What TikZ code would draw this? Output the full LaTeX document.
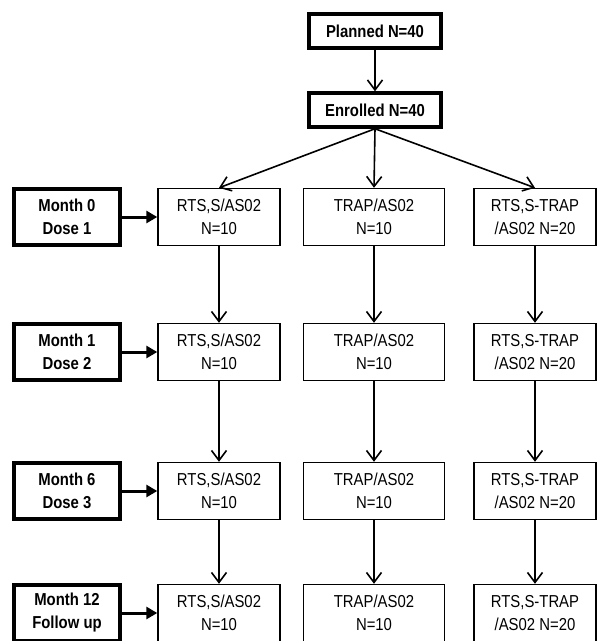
\documentclass[tikz,border=0pt]{standalone}
\usepackage{fontspec}
\setmainfont{Liberation Sans}[FakeStretch=0.86]
\usetikzlibrary{arrows.meta}

\begin{document}
\begin{tikzpicture}[x=1pt,y=-1pt,font=\fontsize{17.3}{23}\selectfont,
    grp/.style={draw,line width=1.4pt,minimum width=#1,minimum height=57pt,
                inner sep=0pt,align=center},
    grp/.default=122pt,
    lbl/.style={draw,line width=3.5pt,minimum width=106pt,minimum height=56pt,
                inner sep=0pt,align=center,font=\fontsize{17.3}{23}\selectfont\bfseries},
    head/.style={draw,line width=3.5pt,minimum width=132pt,minimum height=34pt,
                 inner sep=0pt,font=\fontsize{17.3}{23}\selectfont\bfseries},
    flow/.style={line width=1.6pt,-{Straight Barb[length=10pt,width=15pt,line width=1.6pt]}},
    dose/.style={line width=3pt,-{Triangle[length=11pt,width=12pt]}}]
  \useasboundingbox (0,0) rectangle (598,641);
    \node[head] (plan) at (375,31) {Planned N=40};
    \node[head] (enr) at (375,110) {Enrolled N=40};
    \draw[flow] (plan) -- (enr);
    \foreach \r/\y/\m/\d in {1/217/Month 0/Dose 1,2/352/Month 1/Dose 2,
                              3/491/Month 6/Dose 3,4/613/Month 12/Follow up}{
      \node[lbl] (m\r) at (67,\y) {\m\\\d};
      \node[grp] (a\r) at (219,\y) {RTS,S/AS02\\N=10};
      \node[grp=141pt] (b\r) at (374,\y) {TRAP/AS02\\N=10};
      \node[grp] (c\r) at (535,\y) {RTS,S-TRAP\\/AS02 N=20};
      \draw[dose] (m\r) -- (a\r);}
    \foreach \c in {a,b,c}
      \draw[flow] (enr.south) -- (\c1.north);
    \foreach \r/\s in {1/2,2/3,3/4}{
      \foreach \c in {a,b,c}
        \draw[flow] (\c\r) -- (\c\s);}
  \end{tikzpicture}
\end{document}
